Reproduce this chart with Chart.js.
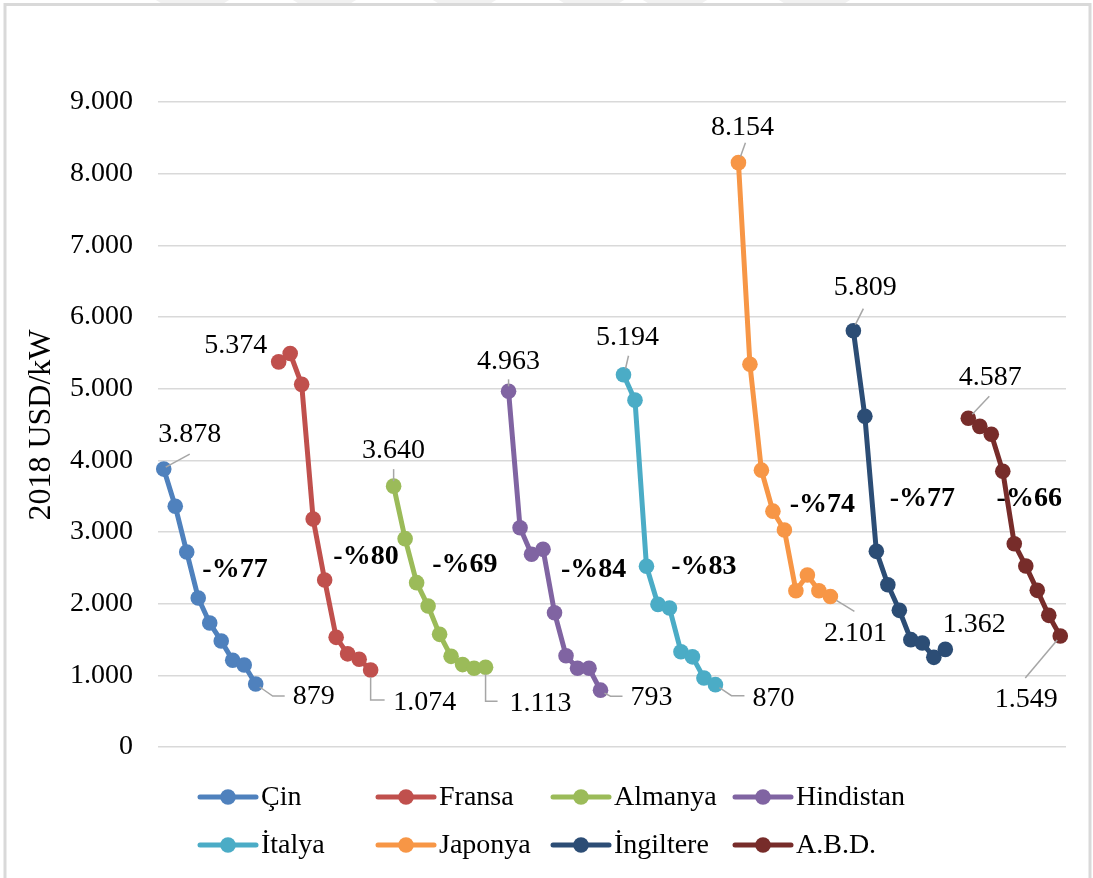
<!DOCTYPE html>
<html>
<head>
<meta charset="utf-8">
<script src="https://cdn.jsdelivr.net/npm/chart.js@4.4.1/dist/chart.umd.min.js"></script>
<style>
  html, body { margin: 0; padding: 0; background: #fff; }
  #wrap { width: 1093px; height: 878px; }
</style>
</head>
<body>
<div id="wrap"><canvas id="c" width="1093" height="878"></canvas></div>
<script>
// Installed-capacity cost by country, 2018 USD/kW (nine observations each)
const countries = ['Çin', 'Fransa', 'Almanya', 'Hindistan', 'İtalya', 'Japonya', 'İngiltere', 'A.B.D.'];
const cin       = [3878, 3360, 2720, 2080, 1730, 1480, 1210, 1145, 879];
const fransa    = [5374, 5490, 5060, 3180, 2330, 1530, 1300, 1225, 1074];
const almanya   = [3640, 2907, 2293, 1967, 1572, 1265, 1150, 1098, 1113];
const hindistan = [4963, 3060, 2690, 2758, 1874, 1274, 1098, 1098, 793];
const italya    = [5194, 4840, 2522, 1990, 1940, 1330, 1258, 962, 870];
const japonya   = [8154, 5340, 3863, 3291, 3027, 2181, 2401, 2181, 2101];
const ingiltere = [5809, 4614, 2730, 2265, 1907, 1498, 1451, 1251, 1362];
const abd       = [4587, 4474, 4363, 3847, 2837, 2526, 2186, 1837, 1549];
const yTickValues = [0, 1000, 2000, 3000, 4000, 5000, 6000, 7000, 8000, 9000];
const yTitle = '2018 USD/kW';

const seriesValues = [cin, fransa, almanya, hindistan, italya, japonya, ingiltere, abd];
const colors = ['#4F81BD', '#C0504D', '#9BBB59', '#8064A2', '#4BACC6', '#F79646', '#2C4D75', '#772C2A'];
const FONT = "'Liberation Serif', 'Times New Roman', serif";

// Each country gets its own run of slots on the category axis, with one empty slot between runs
const GAP = 1;
const runLen = seriesValues[0].length;
const labels = [];
countries.forEach((c, i) => {
  seriesValues[i].forEach((_, j) => labels.push(c + ' ' + (j + 1)));
  if (i < countries.length - 1) for (let g = 0; g < GAP; g++) labels.push('');
});
const startIndex = i => i * (runLen + GAP);

const datasets = countries.map((c, i) => {
  const data = labels.map(() => null);
  seriesValues[i].forEach((v, j) => { data[startIndex(i) + j] = v; });
  return {
    label: c,
    data,
    borderColor: colors[i],
    backgroundColor: colors[i],
    borderWidth: 5,
    pointRadius: 7.8,
    pointHoverRadius: 7.8,
    pointBorderWidth: 0,
    tension: 0,
    spanGaps: false
  };
});

// Thousands separated with a dot
function fmt(v) {
  if (v < 1000) return String(v);
  return Math.floor(v / 1000) + '.' + String(v % 1000).padStart(3, '0');
}

// Value label placement: text centre offset from the point, and an optional leader path
const labelLayout = [
  { first: { dx: 26, dy: -34, lead: [[2, -2], [26, -15]] },   last: { dx: 58, dy: 13, lead: [[4, 3], [17, 12], [29, 12]] } },
  { first: { dx: -43, dy: -16, lead: null },                  last: { dx: 54, dy: 33, lead: [[0, 7], [0, 30], [14, 30]] } },
  { first: { dx: 0, dy: -35, lead: [[0, -17], [0, -5]] },      last: { dx: 55, dy: 36, lead: [[0, 7], [0, 34], [12, 34]] } },
  { first: { dx: 0, dy: -30, lead: [[0, -12], [0, -5]] },      last: { dx: 51, dy: 7, lead: [[4, 3], [10, 6], [22, 6]] } },
  { first: { dx: 4, dy: -37, lead: [[5, -19], [2, -6]] },      last: { dx: 58, dy: 14, lead: [[4, 3], [16, 11], [29, 11]] } },
  { first: { dx: 4, dy: -35, lead: [[7, -20], [2, -6]] },      last: { dx: 25, dy: 37, lead: [[6, 4], [24, 15]] } },
  { first: { dx: 12, dy: -43, lead: [[10, -22], [2, -6]] },    last: { dx: 29, dy: -25, lead: null } },
  { first: { dx: 22, dy: -41, lead: [[21, -22], [4, -4]] },    last: { dx: -34, dy: 64, lead: [[-3, 4], [-35, 42]] } }
];

// Reduction labels, placed in axis units (category slot, value)
const dropLayout = [[6.2, 2470], [17.6, 2650], [26.2, 2540], [37.4, 2470], [47.0, 2520], [57.3, 3380], [66.0, 3460], [75.3, 3460]];

const dropText = seriesValues.map(s => '-%' + Math.round((1 - s[s.length - 1] / s[0]) * 100));

// Faint print marks along the top edge of the page
const topMarks = [[160, 225], [297, 352], [437, 492], [563, 620], [647, 703], [783, 846]];

const framePlugin = {
  id: 'frame',
  beforeDraw(chart) {
    const ctx = chart.ctx;
    ctx.save();
    ctx.fillStyle = '#fff';
    ctx.fillRect(0, 0, chart.width, chart.height);
    ctx.fillStyle = '#f1f1f1';
    topMarks.forEach(([a, b]) => {
      ctx.beginPath();
      ctx.moveTo(a - 4, 0);
      ctx.lineTo(b + 4, 0);
      ctx.lineTo(b - 4, 5);
      ctx.lineTo(a + 4, 5);
      ctx.closePath();
      ctx.fill();
    });
    ctx.strokeStyle = '#d9d9d9';
    ctx.lineWidth = 3;
    ctx.strokeRect(5, 4.5, 1085, 900);
    ctx.restore();
  }
};

const annotatePlugin = {
  id: 'annotate',
  afterDatasetsDraw(chart) {
    const ctx = chart.ctx;
    ctx.save();
    // value labels at both ends of each run
    chart.data.datasets.forEach((ds, i) => {
      const meta = chart.getDatasetMeta(i);
      const ends = [['first', startIndex(i)], ['last', startIndex(i) + runLen - 1]];
      ends.forEach(([key, idx]) => {
        const el = meta.data[idx];
        const cfg = labelLayout[i][key];
        if (cfg.lead) {
          ctx.beginPath();
          ctx.strokeStyle = '#a6a6a6';
          ctx.lineWidth = 1.5;
          cfg.lead.forEach(([px, py], k) => {
            if (k === 0) ctx.moveTo(el.x + px, el.y + py); else ctx.lineTo(el.x + px, el.y + py);
          });
          ctx.stroke();
        }
        ctx.fillStyle = '#000';
        ctx.font = '28px ' + FONT;
        ctx.textAlign = 'center';
        ctx.textBaseline = 'middle';
        ctx.fillText(fmt(ds.data[idx]), el.x + cfg.dx, el.y + cfg.dy);
      });
    });
    // reduction percentages
    const xs = chart.scales.x, ys = chart.scales.y;
    ctx.font = 'bold 28px ' + FONT;
    ctx.fillStyle = '#000';
    ctx.textAlign = 'center';
    ctx.textBaseline = 'middle';
    dropLayout.forEach(([cx, cy], i) => {
      const x = xs.getPixelForValue(0) + cx * (xs.getPixelForValue(1) - xs.getPixelForValue(0));
      ctx.fillText(dropText[i], x, ys.getPixelForValue(cy));
    });
    ctx.restore();
  },
  afterDraw(chart) {
    const ctx = chart.ctx;
    ctx.save();
    // axis title
    ctx.translate(42, 425);
    ctx.rotate(-Math.PI / 2);
    ctx.font = '32px ' + FONT;
    ctx.fillStyle = '#000';
    ctx.textAlign = 'center';
    ctx.textBaseline = 'middle';
    ctx.fillText(yTitle, 0, 0);
    ctx.restore();

    // legend: two rows of four
    const colX = [200, 378, 553, 735];
    const rowY = [797, 845];
    ctx.save();
    ctx.font = '28px ' + FONT;
    ctx.textBaseline = 'middle';
    ctx.textAlign = 'left';
    countries.forEach((c, i) => {
      const x = colX[i % 4], y = rowY[Math.floor(i / 4)];
      ctx.strokeStyle = colors[i];
      ctx.lineWidth = 5;
      ctx.lineCap = 'round';
      ctx.beginPath();
      ctx.moveTo(x, y);
      ctx.lineTo(x + 56, y);
      ctx.stroke();
      ctx.fillStyle = colors[i];
      ctx.beginPath();
      ctx.arc(x + 28, y, 7.8, 0, Math.PI * 2);
      ctx.fill();
      ctx.fillStyle = '#000';
      ctx.fillText(c, x + 61, y + 1);
    });
    ctx.restore();
  }
};

new Chart(document.getElementById('c'), {
  type: 'line',
  data: { labels, datasets },
  plugins: [framePlugin, annotatePlugin],
  options: {
    responsive: false,
    animation: false,
    events: [],
    layout: { padding: { left: 0, right: 27, top: 102, bottom: 0 } },
    plugins: { legend: { display: false }, tooltip: { enabled: false } },
    scales: {
      x: {
        type: 'category',
        offset: true,
        grid: { display: false, drawTicks: false },
        border: { display: false },
        ticks: { display: false },
        afterFit(scale) { scale.height = 131; }
      },
      y: {
        min: 0,
        max: 9000,
        afterBuildTicks(scale) { scale.ticks = yTickValues.map(v => ({ value: v })); },
        grid: { color: '#d9d9d9', lineWidth: 1.5, drawTicks: false },
        border: { display: false },
        ticks: {
          padding: 25,
          color: '#000',
          font: { family: FONT, size: 28 },
          callback: v => fmt(v)
        },
        afterFit(scale) { scale.width = 158; }
      }
    }
  }
});
</script>
</body>
</html>
